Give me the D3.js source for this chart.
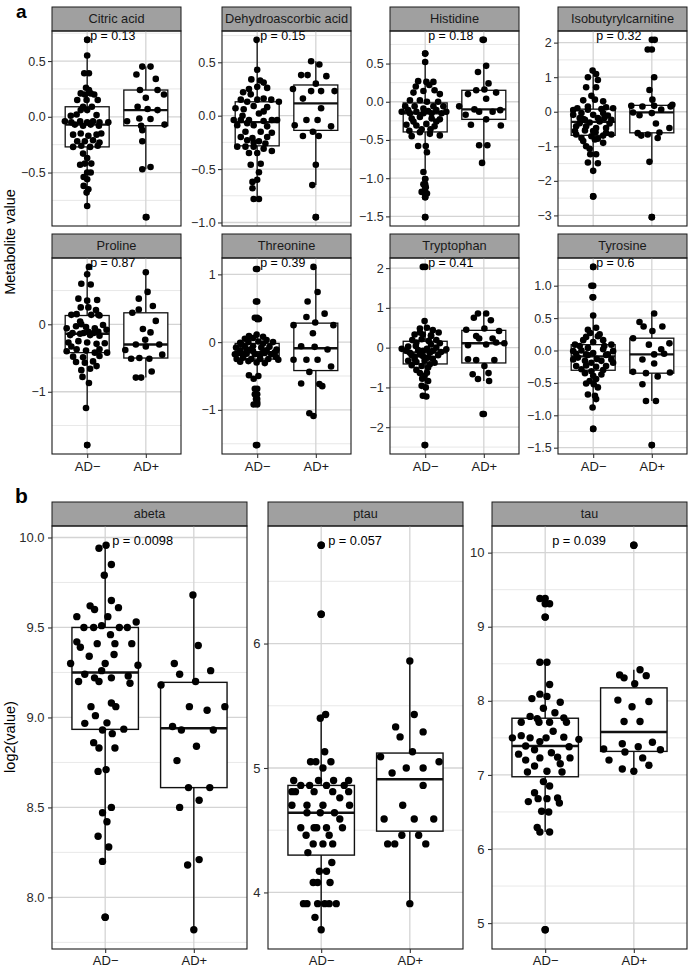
<!DOCTYPE html>
<html>
<head>
<meta charset="utf-8">
<script src="https://cdn.jsdelivr.net/npm/d3@7"></script>
<style>
  body { margin: 0; background: #fff; }
  text { font-family: "Liberation Sans", Arial, sans-serif; }
</style>
</head>
<body>
<script>
// groups on the x axis
const groups = ["AD\u2212", "AD+"];

// panel a: metabolites
const metabolites = ["Citric acid", "Dehydroascorbic acid", "Histidine", "Isobutyrylcarnitine",
                     "Proline", "Threonine", "Tryptophan", "Tyrosine"];
const metabP = ["p = 0.13", "p = 0.15", "p = 0.18", "p = 0.32", "p = 0.87", "p = 0.39", "p = 0.41", "p = 0.6"];
const metabTicks = [[-0.5, 0, 0.5], [-1, -0.5, 0, 0.5], [-1.5, -1, -0.5, 0, 0.5], [-3, -2, -1, 0, 1, 2],
                    [-1, 0], [-1, 0, 1], [-2, -1, 0, 1, 2], [-1.5, -1, -0.5, 0, 0.5, 1]];

// panel b: CSF markers
const markers = ["abeta", "ptau", "tau"];
const markerP = ["p = 0.0098", "p = 0.057", "p = 0.039"];
const markerTicks = [[8, 8.5, 9, 9.5, 10], [4, 5, 6], [5, 6, 7, 8, 9, 10]];

// points: [jitter offset (in group units), value]
const citricNeg = [[0,0.69],[0,0.55],[-0.05,0.39],[0.03,0.39],[-0.02,0.26],[0.03,0.24],[-0.11,0.21],[-0.04,0.20],[0.06,0.21],[0.12,0.20],[-0.17,0.15],[-0.01,0.15],[0.18,0.15],[-0.07,0.09],[0.08,0.09],[-0.11,0.06],[0,0.06],[-0.28,0.01],[-0.18,0.02],[0.16,0.015],[-0.38,-0.04],[-0.27,-0.05],[-0.12,-0.04],[0,-0.05],[0.10,-0.04],[0.21,-0.05],[0.36,-0.05],[-0.21,-0.07],[-0.07,-0.08],[0.06,-0.07],[0.2,-0.08],[-0.24,-0.16],[-0.11,-0.15],[0.02,-0.17],[0.16,-0.16],[0.24,-0.15],[-0.17,-0.22],[-0.04,-0.22],[0.10,-0.21],[0.21,-0.23],[-0.24,-0.27],[-0.10,-0.26],[0.05,-0.27],[0.18,-0.26],[-0.07,-0.33],[0,-0.37],[-0.12,-0.43],[-0.04,-0.42],[0.07,-0.42],[0,-0.50],[0.06,-0.50],[-0.06,-0.54],[0,-0.56],[-0.06,-0.62],[0.02,-0.65],[-0.01,-0.68],[0,-0.80]];
const citricPos = [[-0.06,0.45],[0.08,0.45],[-0.16,0.38],[0.17,0.34],[-0.10,0.24],[0.2,0.24],[0.31,0.20],[0,0.17],[-0.14,0.09],[0.03,0.07],[0.2,0.06],[-0.11,-0.015],[0.08,-0.02],[-0.32,-0.04],[0.32,-0.07],[-0.08,-0.08],[-0.06,-0.12],[-0.06,-0.22],[-0.06,-0.47],[0.08,-0.45],[0.01,-0.90]];

const dehydroNeg = [[-0.01,0.71],[0,0.43],[-0.10,0.34],[0.05,0.33],[0.11,0.31],[-0.14,0.25],[0,0.27],[0.17,0.26],[-0.24,0.22],[-0.11,0.20],[-0.28,0.15],[0.11,0.16],[0.24,0.15],[-0.17,0.13],[0,0.15],[0.37,0.13],[-0.06,0.09],[-0.37,0.07],[0.17,0.08],[-0.23,0.06],[0.03,0.02],[-0.40,-0.04],[-0.28,-0.04],[-0.14,-0.04],[0.11,-0.05],[0.25,-0.04],[0.34,-0.04],[-0.34,-0.09],[-0.06,-0.09],[0.17,-0.10],[-0.2,-0.15],[0.06,-0.15],[0.25,-0.16],[-0.28,-0.20],[-0.08,-0.21],[0.17,-0.20],[-0.17,-0.23],[0.03,-0.24],[-0.34,-0.29],[-0.2,-0.29],[-0.06,-0.29],[0.11,-0.31],[0.25,-0.33],[-0.14,-0.35],[0,-0.35],[-0.11,-0.46],[0.06,-0.45],[0.03,-0.53],[-0.08,-0.62],[0,-0.60],[-0.08,-0.68],[-0.06,-0.78],[0.03,-0.78],[-0.25,0.0],[0.11,0.04],[-0.06,-0.25],[0.14,-0.26],[-0.17,-0.07]];
const dehydroPos = [[-0.08,0.51],[0.06,0.48],[-0.25,0.38],[-0.14,0.38],[0.18,0.37],[0,0.30],[-0.39,0.25],[-0.08,0.23],[0.09,0.23],[0.32,0.23],[-0.22,0.16],[0.09,0.07],[-0.36,-0.09],[-0.16,-0.04],[0.03,-0.04],[0.26,-0.10],[-0.05,-0.15],[-0.22,-0.19],[0.05,-0.19],[0,-0.46],[-0.06,-0.65],[0,-0.95]];

const histNeg = [[0,0.63],[0,0.52],[-0.12,0.27],[0.02,0.26],[0.14,0.26],[-0.16,0.20],[0.07,0.22],[-0.2,0.12],[-0.03,0.14],[0.16,0.15],[0.25,0.10],[-0.26,0.02],[-0.09,0.02],[0.03,0],[0.22,0],[-0.40,-0.13],[-0.29,-0.11],[-0.15,-0.13],[0.05,-0.12],[0.19,-0.11],[0.36,-0.13],[-0.23,-0.22],[-0.09,-0.20],[0.11,-0.22],[0.25,-0.23],[-0.32,-0.30],[-0.15,-0.31],[0.02,-0.29],[0.16,-0.32],[-0.27,-0.38],[-0.09,-0.40],[0.08,-0.42],[0.25,-0.44],[-0.12,-0.58],[0.01,-0.58],[0.03,-0.66],[-0.03,-0.92],[0,-1.01],[-0.03,-1.08],[0.01,-1.12],[-0.06,-1.18],[0,-1.25],[0.03,-1.20],[0,-1.51],[-0.34,-0.06],[-0.18,-0.06],[0.14,-0.06],[0.31,-0.06],[-0.03,-0.09],[-0.2,-0.26],[0.19,-0.26],[-0.03,-0.15],[0.11,-0.15],[-0.26,-0.15],[0.28,-0.15],[-0.06,-0.36],[0.09,-0.36],[-0.23,-0.45]];
const histPos = [[-0.02,0.81],[0.04,0.47],[-0.1,0.39],[0.08,0.24],[0.01,0.16],[-0.13,0.15],[0.21,0.12],[-0.27,0.10],[0.04,0.04],[-0.42,-0.06],[-0.16,-0.10],[0.28,-0.11],[-0.08,-0.13],[0.15,-0.13],[-0.31,-0.17],[0.04,-0.23],[-0.22,-0.30],[0.29,-0.31],[-0.08,-0.57],[0.06,-0.57],[-0.03,-0.80]];

const isoNeg = [[-0.01,1.19],[0.05,1.09],[-0.09,1.0],[0.08,0.92],[-0.12,0.71],[0.05,0.71],[-0.03,0.46],[0.03,0.35],[-0.17,0.33],[0.17,0.30],[-0.27,0.10],[-0.09,0.15],[0.22,0.13],[0.34,0.10],[-0.34,-0.09],[-0.2,-0.04],[0,-0.09],[0.17,-0.04],[0.25,-0.11],[-0.23,-0.33],[-0.06,-0.31],[0.11,-0.28],[0.28,-0.34],[-0.31,-0.56],[-0.14,-0.54],[0.04,-0.59],[0.22,-0.61],[-0.29,-0.66],[-0.03,-0.71],[0.17,-0.69],[0.31,-0.66],[-0.17,-0.85],[0.03,-0.80],[0.17,-0.90],[-0.12,-1.0],[-0.05,-1.23],[0.05,-1.23],[-0.09,-1.47],[0.08,-1.49],[0,-1.71],[0,-2.45],[-0.23,-0.18],[0.08,-0.18],[-0.12,-0.42],[0.22,-0.47],[-0.29,-0.42],[0.05,-0.47],[-0.17,-0.21],[0.19,-0.18],[-0.09,0.06],[0.14,0.08],[0,-0.56],[-0.2,-0.76],[0.08,-0.78],[-0.06,-1.07],[-0.14,-0.23],[0.31,-0.23],[-0.34,0.05]];
const isoPos = [[0.05,2.08],[-0.07,1.80],[0.04,1.0],[-0.04,0.63],[0.01,0.35],[-0.35,0.17],[-0.16,0.15],[0.04,0.17],[0.32,0.15],[0.16,0.06],[-0.32,-0.02],[0,-0.04],[-0.24,-0.62],[0.07,-0.34],[-0.18,-0.69],[-0.07,-0.66],[0.1,-0.76],[0.3,-0.47],[-0.04,-1.45],[0,-3.05],[0.13,-0.60],[0.35,0.2],[-0.21,-0.1]];

const prolNeg = [[0.03,0.85],[0,0.74],[-0.1,0.60],[0.06,0.59],[-0.15,0.38],[0,0.35],[0.17,0.36],[0.02,0.25],[-0.11,0.25],[0.15,0.21],[-0.27,0.14],[-0.12,0.04],[0.07,0.14],[0.21,0.13],[-0.35,-0.06],[-0.19,-0.03],[-0.02,-0.04],[0.13,-0.06],[0.33,-0.08],[-0.29,-0.16],[-0.12,-0.14],[0.05,-0.16],[0.21,-0.17],[-0.32,-0.27],[-0.15,-0.25],[0,-0.27],[0.16,-0.29],[0.3,-0.28],[-0.35,-0.40],[-0.18,-0.37],[-0.02,-0.39],[0.13,-0.42],[0.34,-0.42],[-0.24,-0.48],[-0.07,-0.49],[0.21,-0.47],[-0.19,-0.56],[-0.04,-0.57],[0.1,-0.55],[-0.1,-0.68],[0.05,-0.66],[0.16,-0.62],[-0.08,-0.78],[0.03,-0.87],[-0.02,-1.24],[0,-1.79],[-0.18,0.15],[0.19,0.14],[-0.06,-0.13],[-0.25,-0.13],[0.11,-0.13],[0.21,-0.37],[-0.27,-0.33],[0.02,-0.11],[0.19,-0.11],[-0.1,0.0],[0.27,-0.01]];
const prolPos = [[0,0.77],[0.03,0.48],[-0.12,0.38],[0.12,0.27],[-0.12,0.22],[-0.23,0.17],[0.17,0.05],[-0.05,-0.07],[0.08,-0.12],[-0.35,-0.38],[-0.17,-0.30],[0,-0.33],[0.23,-0.30],[-0.25,-0.51],[-0.11,-0.50],[0.06,-0.51],[0.28,-0.45],[0.1,-0.70],[-0.17,-0.79],[-0.08,-0.79],[-0.01,-0.23]];

const threNeg = [[-0.02,1.08],[-0.02,0.60],[-0.04,0.36],[0.03,0.34],[-0.14,0.09],[-0.01,0.11],[0.1,0.08],[-0.29,-0.01],[-0.15,0],[0.02,0.01],[0.16,0.03],[0.27,0],[-0.36,-0.08],[-0.21,-0.07],[-0.07,-0.06],[0.07,-0.08],[0.21,-0.07],[0.33,-0.11],[-0.32,-0.16],[-0.18,-0.17],[-0.04,-0.18],[0.13,-0.16],[0.3,-0.15],[-0.35,-0.25],[-0.24,-0.23],[-0.1,-0.25],[0.05,-0.25],[0.19,-0.25],[0.36,-0.26],[-0.14,-0.49],[0.02,-0.50],[-0.06,-0.54],[-0.04,-0.69],[-0.04,-0.77],[-0.02,-0.84],[-0.01,-0.89],[-0.06,-0.92],[-0.02,-1.52],[-0.27,-0.03],[0.1,-0.02],[-0.12,-0.11],[0.16,-0.12],[-0.29,-0.12],[0.24,-0.18],[-0.24,-0.20],[0.05,-0.20],[-0.07,-0.13],[-0.18,-0.13],[0.1,-0.15],[-0.38,-0.18],[0.32,-0.22],[-0.15,-0.28],[-0.01,-0.30],[-0.29,-0.29],[0.13,-0.31],[-0.07,0.06],[-0.21,0.05]];
const threPos = [[-0.04,1.11],[0.03,0.74],[-0.14,0.60],[0.15,0.42],[-0.16,0.37],[-0.01,0.29],[-0.38,0.25],[0.3,0.25],[-0.05,0.13],[-0.25,-0.06],[-0.02,-0.07],[0.2,-0.11],[-0.38,-0.26],[-0.16,-0.26],[0.03,-0.26],[0.26,-0.36],[-0.11,-0.44],[-0.25,-0.61],[0.06,-0.62],[0.11,-0.65],[-0.11,-1.05],[-0.04,-1.09]];

const trypNeg = [[-0.04,2.03],[-0.01,0.67],[-0.09,0.48],[0.03,0.50],[0.13,0.44],[-0.18,0.33],[-0.04,0.33],[0.1,0.31],[0.23,0.38],[-0.22,0.19],[-0.06,0.21],[0.06,0.17],[0.19,0.19],[-0.4,-0.03],[-0.29,0.03],[-0.16,0.04],[0.03,-0.03],[0.19,0],[0.36,-0.04],[-0.26,-0.13],[-0.09,-0.17],[0.08,-0.13],[0.22,-0.19],[-0.18,-0.29],[-0.01,-0.33],[0.13,-0.28],[-0.23,-0.44],[-0.06,-0.46],[0.08,-0.42],[-0.09,-0.64],[0.03,-0.63],[-0.05,-0.78],[0.05,-0.84],[-0.06,-0.96],[0.01,-1.0],[-0.04,-1.21],[0.02,-1.23],[-0.01,-2.45],[-0.15,0.13],[0.1,0.08],[-0.32,-0.08],[-0.12,-0.06],[0.13,-0.08],[0.27,-0.11],[-0.04,-0.21],[-0.18,-0.23],[0.16,-0.38],[-0.29,-0.33],[0.05,-0.50],[-0.15,-0.56],[0.1,0.29],[-0.09,0.38],[0.25,0.11],[-0.23,-0.19],[-0.04,-0.08],[0.05,-0.25],[-0.15,-0.36],[-0.01,-0.71]];
const trypPos = [[-0.1,0.86],[0.04,0.86],[-0.17,0.75],[0.12,0.69],[0.01,0.48],[-0.3,0.45],[-0.13,0.29],[0.26,0.42],[-0.08,0.23],[0.15,0.23],[-0.27,0.06],[0.04,0.08],[0.21,0.13],[0.35,0.11],[-0.27,-0.29],[-0.13,-0.31],[0.18,-0.31],[0.01,-0.46],[-0.19,-0.67],[-0.1,-0.79],[0.08,-0.64],[0.09,-0.84],[-0.02,-1.67]];

const tyroNeg = [[0,1.29],[-0.03,1.0],[-0.01,0.82],[0,0.54],[-0.09,0.32],[0.05,0.35],[-0.05,0.27],[0.11,0.25],[-0.31,0.09],[-0.17,0.16],[0,0.13],[0.17,0.16],[0.31,0.09],[-0.34,-0.01],[-0.2,0.0],[0,-0.04],[0.17,0.02],[0.34,-0.01],[-0.26,-0.11],[-0.09,-0.07],[0.06,-0.13],[0.22,-0.07],[-0.29,-0.24],[-0.12,-0.23],[0.05,-0.25],[0.22,-0.24],[0.34,-0.19],[-0.14,-0.35],[0,-0.39],[0.14,-0.37],[-0.12,-0.51],[0.01,-0.52],[0.08,-0.57],[-0.09,-0.68],[0.03,-0.70],[0.05,-0.75],[-0.01,-0.88],[0,-1.21],[-0.23,0.07],[0.19,0.07],[-0.09,0.04],[-0.34,-0.14],[-0.14,-0.16],[0.14,-0.16],[0.31,-0.14],[-0.03,-0.19],[-0.2,-0.29],[0.17,-0.30],[-0.03,-0.32],[0.08,0.22],[-0.12,0.21],[-0.29,-0.05],[0.25,-0.06],[-0.12,-0.06],[0.05,-0.44],[-0.06,-0.47]];
const tyroPos = [[0.04,0.57],[-0.21,0.44],[-0.14,0.37],[0.18,0.37],[0.01,0.30],[-0.32,0.19],[-0.05,0.09],[0.16,0.02],[0.3,0.11],[-0.16,-0.14],[0.04,-0.20],[-0.32,-0.33],[-0.1,-0.35],[0.31,-0.34],[0.1,-0.40],[-0.16,-0.52],[0.04,-0.06],[0.07,-0.78],[-0.1,-0.78],[0,-1.46],[0.21,-0.05]];

const abetaNeg = [[0.01,9.957],[-0.07,9.94],[0.07,9.85],[-0.01,9.79],[0.07,9.65],[-0.17,9.62],[-0.12,9.60],[0.15,9.61],[-0.32,9.56],[0.03,9.56],[-0.24,9.50],[-0.13,9.50],[-0.04,9.51],[0.16,9.50],[0.25,9.50],[0.35,9.53],[-0.32,9.42],[-0.28,9.39],[0.06,9.46],[-0.09,9.41],[0.11,9.41],[0.30,9.41],[-0.18,9.34],[0.10,9.35],[-0.39,9.30],[0,9.30],[0.37,9.29],[-0.04,9.26],[-0.23,9.24],[-0.30,9.20],[-0.12,9.22],[-0.07,9.20],[0.07,9.22],[0.26,9.23],[0.28,9.19],[0.07,9.08],[-0.16,9.06],[0.12,9.06],[-0.11,9.01],[-0.23,8.967],[0.02,8.97],[-0.03,8.93],[0.08,8.91],[0.21,8.935],[-0.13,8.86],[-0.07,8.83],[0.11,8.83],[-0.08,8.70],[0.01,8.71],[-0.03,8.47],[0.07,8.50],[0.02,8.42],[-0.08,8.34],[0.04,8.28],[-0.03,8.20],[0,7.89]];
const abetaPos = [[-0.01,9.68],[0.05,9.40],[-0.22,9.30],[-0.16,9.24],[0.19,9.26],[-0.37,9.18],[0.02,9.20],[-0.05,9.06],[0.15,9.04],[0.35,9.06],[-0.24,8.95],[-0.14,8.93],[0.22,8.93],[0.03,8.84],[-0.19,8.76],[-0.06,8.61],[0.18,8.61],[0.06,8.54],[-0.16,8.50],[-0.07,8.18],[0.06,8.21],[0,7.82]];

const ptauNeg = [[0,6.79],[0,6.235],[-0.01,5.40],[0.05,5.43],[0.04,5.13],[-0.12,5.05],[-0.06,5.05],[0.11,5.05],[0.02,5.00],[-0.31,4.90],[-0.03,4.90],[0.14,4.90],[0.31,4.90],[-0.23,4.86],[-0.13,4.86],[0.06,4.86],[0.26,4.86],[-0.33,4.81],[-0.29,4.81],[-0.08,4.81],[0.13,4.81],[0.31,4.81],[0.21,4.76],[-0.33,4.70],[-0.16,4.70],[0.02,4.70],[0.32,4.70],[-0.16,4.64],[-0.01,4.64],[0.15,4.64],[0.21,4.59],[-0.23,4.52],[-0.08,4.52],[-0.05,4.52],[0.06,4.52],[0.24,4.52],[-0.17,4.46],[0.09,4.46],[-0.09,4.39],[0.02,4.39],[0.13,4.39],[-0.15,4.32],[0.12,4.24],[-0.02,4.17],[0.06,4.17],[-0.09,4.08],[-0.04,4.08],[0.1,4.08],[-0.2,3.91],[-0.16,3.91],[-0.04,3.91],[0.04,3.91],[0.09,3.91],[0.17,3.91],[-0.07,3.80],[0,3.70]];
const ptauPos = [[0,5.86],[0.05,5.43],[-0.16,5.33],[-0.11,5.25],[0.15,5.29],[0.03,5.13],[-0.33,5.09],[0.33,5.05],[-0.04,5.00],[0.15,5.00],[-0.2,4.96],[0.15,4.86],[-0.08,4.70],[-0.29,4.59],[0.05,4.59],[0.27,4.59],[-0.09,4.46],[0.10,4.46],[-0.25,4.39],[-0.17,4.39],[0.18,4.39],[0,3.91]];

const tauNeg = [[-0.06,9.38],[0.05,9.31],[0,9.13],[-0.06,8.52],[0.02,8.52],[0.05,8.22],[-0.15,8.03],[-0.06,8.09],[0.02,8.06],[0.17,7.98],[-0.02,7.90],[0.11,7.84],[-0.17,7.79],[-0.09,7.76],[0.21,7.77],[-0.27,7.71],[-0.07,7.71],[0.05,7.71],[0.24,7.71],[0.09,7.59],[-0.37,7.50],[-0.27,7.53],[-0.17,7.50],[0.01,7.50],[0.21,7.51],[0.38,7.48],[-0.06,7.45],[-0.22,7.39],[-0.12,7.34],[0.27,7.38],[-0.3,7.28],[0.07,7.30],[-0.06,7.23],[0.14,7.24],[0.28,7.23],[-0.22,7.20],[0.17,7.15],[-0.12,7.12],[-0.2,7.04],[0.02,7.05],[0.19,7.04],[-0.02,6.91],[0.05,6.85],[-0.12,6.76],[-0.19,6.64],[-0.08,6.68],[0.02,6.68],[0.14,6.69],[0.16,6.62],[-0.04,6.51],[0.04,6.50],[-0.09,6.29],[-0.06,6.23],[0.05,6.23],[0,4.91]];
const tauPos = [[0,10.10],[-0.16,8.35],[-0.11,8.31],[0.07,8.42],[0.14,8.34],[0.01,8.23],[-0.18,8.01],[0.17,7.99],[-0.02,7.92],[-0.11,7.72],[0.07,7.72],[-0.13,7.42],[0.05,7.38],[0.21,7.44],[-0.34,7.35],[-0.1,7.31],[0.3,7.34],[-0.28,7.20],[0.1,7.23],[0.17,7.13],[-0.13,7.08],[0,7.05]];

const metabNeg = [citricNeg, dehydroNeg, histNeg, isoNeg, prolNeg, threNeg, trypNeg, tyroNeg];
const metabPos = [citricPos, dehydroPos, histPos, isoPos, prolPos, threPos, trypPos, tyroPos];
const markerNeg = [abetaNeg, ptauNeg, tauNeg];
const markerPos = [abetaPos, ptauPos, tauPos];

const svg = d3.select("body").append("svg")
    .attr("width", 690)
    .attr("height", 968);

// ggplot-style box stats (type 7 quantiles, 1.5 IQR whiskers)
function boxStats(vals) {
    const s = vals.slice().sort(d3.ascending);
    const q1 = d3.quantile(s, 0.25), med = d3.quantile(s, 0.5), q3 = d3.quantile(s, 0.75);
    const iqr = q3 - q1;
    const inside = s.filter(v => v >= q1 - 1.5 * iqr && v <= q3 + 1.5 * iqr);
    return {
        q1, med, q3,
        lo: d3.min(inside), hi: d3.max(inside),
        out: s.filter(v => v < q1 - 1.5 * iqr || v > q3 + 1.5 * iqr)
    };
}

function drawPanel(o) {
    const g = svg.append("g").attr("transform", `translate(${o.left},${o.top})`);

    const x = d3.scalePoint().domain(groups).range([0, o.width]).padding(0.6);
    const step = x.step();

    const allVals = o.neg.concat(o.pos).map(d => d[1]);
    const [lo, hi] = d3.extent(allVals);
    const pad = (hi - lo) * 0.05;
    const y = d3.scaleLinear().domain([lo - pad, hi + pad]).range([o.height, 0]);

    // strip
    g.append("rect")
        .attr("x", 0).attr("y", -o.stripH)
        .attr("width", o.width).attr("height", o.stripH)
        .attr("fill", "#a0a0a0").attr("stroke", "#1a1a1a").attr("stroke-width", 1);
    g.append("text")
        .attr("x", o.width / 2).attr("y", -o.stripH / 2)
        .attr("dy", "0.35em")
        .attr("text-anchor", "middle")
        .style("font-size", o.stripFs + "px")
        .attr("fill", "#1a1a1a")
        .text(o.title);

    // grid
    const tstep = o.ticks[1] - o.ticks[0];
    const minors = [];
    for (let v = o.ticks[0] - tstep / 2; v <= hi + pad; v += tstep) {
        if (v >= lo - pad) minors.push(v);
    }
    g.selectAll(".minor").data(minors).enter().append("line")
        .attr("x1", 0).attr("x2", o.width)
        .attr("y1", d => y(d)).attr("y2", d => y(d))
        .attr("stroke", "#e2e2e2").attr("stroke-width", 0.8);
    g.selectAll(".major").data(o.ticks).enter().append("line")
        .attr("x1", 0).attr("x2", o.width)
        .attr("y1", d => y(d)).attr("y2", d => y(d))
        .attr("stroke", "#d4d4d4").attr("stroke-width", 1.3);
    g.selectAll(".vgrid").data(groups).enter().append("line")
        .attr("x1", d => x(d)).attr("x2", d => x(d))
        .attr("y1", 0).attr("y2", o.height)
        .attr("stroke", "#d4d4d4").attr("stroke-width", 1.3);

    // boxplots
    const bw = step * 0.75;
    [o.neg, o.pos].forEach((pts, i) => {
        const st = boxStats(pts.map(d => d[1]));
        const cx = x(groups[i]);
        g.append("line").attr("x1", cx).attr("x2", cx)
            .attr("y1", y(st.q3)).attr("y2", y(st.hi))
            .attr("stroke", "#111").attr("stroke-width", o.lw);
        g.append("line").attr("x1", cx).attr("x2", cx)
            .attr("y1", y(st.q1)).attr("y2", y(st.lo))
            .attr("stroke", "#111").attr("stroke-width", o.lw);
        g.append("rect")
            .attr("x", cx - bw / 2).attr("y", y(st.q3))
            .attr("width", bw).attr("height", y(st.q1) - y(st.q3))
            .attr("fill", "#fff").attr("stroke", "#111").attr("stroke-width", o.lw);
        g.append("line")
            .attr("x1", cx - bw / 2).attr("x2", cx + bw / 2)
            .attr("y1", y(st.med)).attr("y2", y(st.med))
            .attr("stroke", "#111").attr("stroke-width", o.lw * 1.8);
        g.selectAll(null).data(st.out).enter().append("circle")
            .attr("cx", cx).attr("cy", d => y(d))
            .attr("r", o.r).attr("fill", "#000");
    });

    // jittered points
    [o.neg, o.pos].forEach((pts, i) => {
        const cx = x(groups[i]);
        g.selectAll(null).data(pts).enter().append("circle")
            .attr("cx", d => cx + d[0] * step)
            .attr("cy", d => y(d[1]))
            .attr("r", o.r).attr("fill", "#000");
    });

    // p value label
    g.append("text")
        .attr("x", x(groups[0]) + o.labelDx)
        .attr("y", y(hi))
        .style("font-size", o.pFs + "px")
        .attr("fill", "#000")
        .text(o.pval);

    // border
    g.append("rect")
        .attr("x", 0).attr("y", 0)
        .attr("width", o.width).attr("height", o.height)
        .attr("fill", "none").attr("stroke", "#1a1a1a").attr("stroke-width", 1.1);

    // axes
    const fmt = o.ticks.some(t => !Number.isInteger(t)) ? d3.format(".1f") : d3.format("d");
    const ya = g.append("g")
        .call(d3.axisLeft(y).tickValues(o.ticks).tickFormat(fmt).tickSize(o.tickLen).tickPadding(o.tickPad));
    ya.select(".domain").remove();
    ya.selectAll("line").attr("stroke", "#333").attr("stroke-width", 1.1);
    ya.selectAll("text").style("font-size", o.tickFs + "px").attr("fill", "#2a2a2a")
        .style("font-family", "'Liberation Sans', Arial, sans-serif");

    if (o.showX) {
        const xa = g.append("g")
            .attr("transform", `translate(0,${o.height})`)
            .call(d3.axisBottom(x).tickSize(o.tickLen).tickPadding(o.xPad));
        xa.select(".domain").remove();
        xa.selectAll("line").attr("stroke", "#333").attr("stroke-width", 1.1);
        xa.selectAll("text").style("font-size", o.xFs + "px").attr("fill", "#1a1a1a")
            .style("font-family", "'Liberation Sans', Arial, sans-serif");
    }
}

// panel a: 2 x 4 facets
const aLefts = [52, 222, 390, 558];
const aTops = [31, 258];
metabolites.forEach((m, i) => {
    const row = Math.floor(i / 4), col = i % 4;
    drawPanel({
        left: aLefts[col], top: aTops[row], width: 129, height: row === 0 ? 195 : 196,
        stripH: 24, title: m, pval: metabP[i], ticks: metabTicks[i],
        neg: metabNeg[i], pos: metabPos[i], showX: row === 1,
        r: 3.3, lw: 1.3, stripFs: 12.8, pFs: 12.4, tickFs: 12.5, xFs: 13,
        tickLen: 4, tickPad: 2.3, xPad: 4, labelDx: 3
    });
});

// panel b: 3 facets
const bLefts = [52, 268, 492];
markers.forEach((m, i) => {
    drawPanel({
        left: bLefts[i], top: 526, width: 195, height: 423,
        stripH: 24, title: m, pval: markerP[i], ticks: markerTicks[i],
        neg: markerNeg[i], pos: markerPos[i], showX: true,
        r: 3.7, lw: 1.4, stripFs: 12.5, pFs: 12.8, tickFs: 13, xFs: 13,
        tickLen: 4, tickPad: 3.5, xPad: 2.5, labelDx: 7
    });
});

// axis titles
svg.append("text")
    .attr("transform", "translate(15,242) rotate(-90)")
    .attr("text-anchor", "middle")
    .style("font-size", "14.5px")
    .text("Metabolite value");
svg.append("text")
    .attr("transform", "translate(15,737) rotate(-90)")
    .attr("text-anchor", "middle")
    .style("font-size", "14.5px")
    .text("log2(value)");

// panel letters
svg.append("text")
    .attr("x", 16).attr("y", 18)
    .style("font-weight", "bold").style("font-size", "19px")
    .text("a");
svg.append("text")
    .attr("x", 15).attr("y", 503)
    .style("font-weight", "bold").style("font-size", "21px")
    .text("b");
</script>
</body>
</html>
